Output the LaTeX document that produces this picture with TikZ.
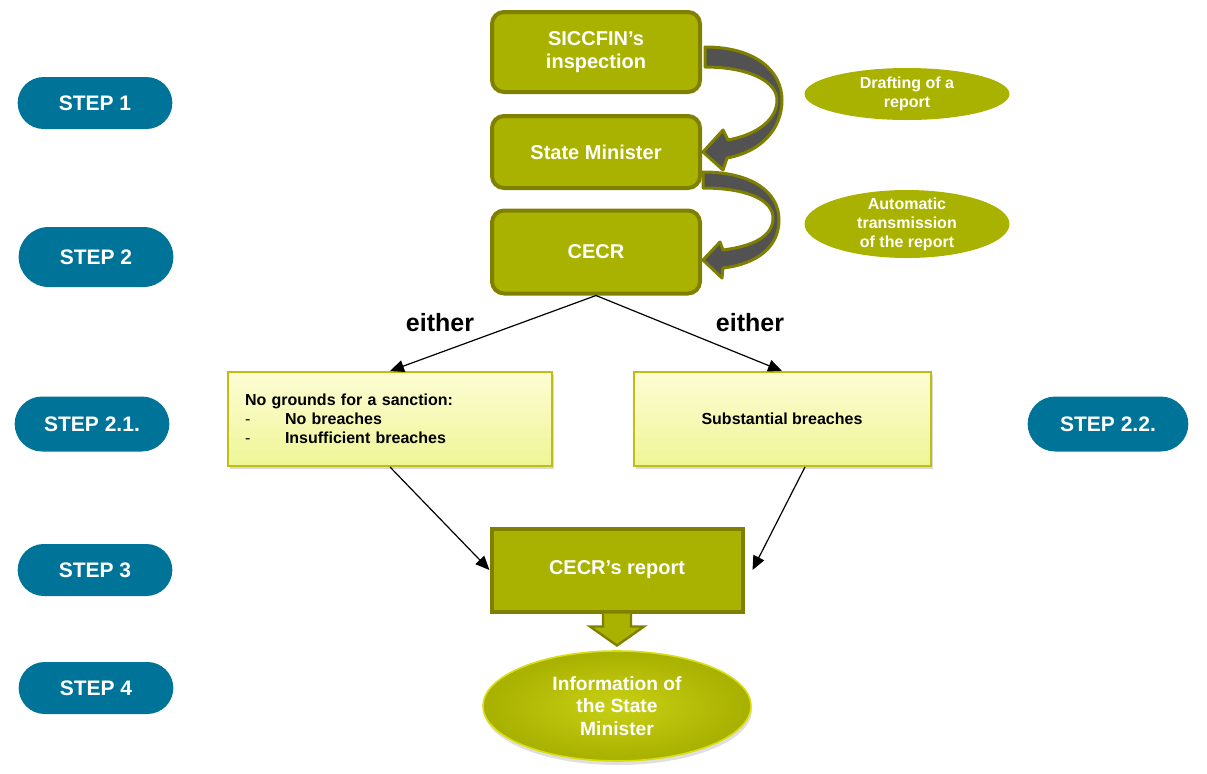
\documentclass[tikz,border=0pt]{standalone}
\usepackage{fontspec}
\setmainfont{Liberation Sans}
\usetikzlibrary{shapes.misc,shapes.geometric,arrows.meta,shadows}

\definecolor{stepteal}{RGB}{0,116,152}
\definecolor{olivefill}{RGB}{170,178,0}
\definecolor{oliveline}{RGB}{128,128,0}
\definecolor{paleyellow}{RGB}{253,253,212}
\definecolor{paleyellowb}{RGB}{238,245,150}
\definecolor{paleline}{RGB}{190,190,20}
\definecolor{bendgrey}{RGB}{82,82,82}
\definecolor{infoin}{RGB}{200,208,20}
\definecolor{infoout}{RGB}{168,176,0}

\begin{document}
\begin{tikzpicture}[x=0.5pt,y=-0.5pt,
  steppill/.style={rounded rectangle,fill=stepteal,text=white,
    font=\fontsize{10.5}{12}\selectfont\bfseries,minimum width=84pt,minimum height=26pt},
  olivebox/.style={draw=oliveline,line width=2pt,fill=olivefill,rounded corners=6pt,
    text=white,font=\fontsize{10}{11.5}\selectfont\bfseries,minimum width=104pt,align=center},
  noteoval/.style={ellipse,fill=olivefill,minimum width=102.5pt,inner sep=0pt},
  notetext/.style={text=white,font=\fontsize{8}{9.5}\selectfont\bfseries,align=center},
  choicebox/.style={draw=paleline,line width=1pt,top color=paleyellow,bottom color=paleyellowb,
    minimum height=47pt,font=\fontsize{8}{9.5}\selectfont\bfseries,
    drop shadow={opacity=0.3,shadow xshift=1pt,shadow yshift=-1.5pt}},
  flow/.style={-{Triangle[length=7pt,width=6pt]},line width=0.6pt},
  bendarrow/.style={draw=oliveline,line width=1.5pt,fill=bendgrey,line join=round},
]
\useasboundingbox (0,0) rectangle (1207,773);

% steps on the side
\node[steppill] (s1) at (95,103) {STEP 1};
\node[steppill,minimum height=30pt] (s2) at (96,257) {STEP 2};
\node[steppill,minimum height=27.5pt] (s21) at (92,424) {STEP 2.1.};
\node[steppill,minimum height=27.5pt,minimum width=87pt] (s22) at (1108,424) {STEP 2.2.};
\node[steppill] (s3) at (95,570) {STEP 3};
\node[steppill] (s4) at (96,688) {STEP 4};

% main chain
\node[olivebox,minimum height=40pt] (sic) at (596,52) {SICCFIN’s\\inspection};
\node[olivebox,minimum height=36pt] (min) at (596,152) {State Minister};
\node[olivebox,minimum height=41.5pt] (cecr) at (596,252) {CECR};

\node[noteoval,minimum height=26pt,
  label={[notetext,font=\fontsize{8}{9.2}\selectfont\bfseries]center:Drafting of a\\report}] (draft) at (907,94) {};
\node[noteoval,minimum height=34pt,
  label={[notetext]center:Automatic\\transmission\\of the report}] (auto) at (907,224) {};

% bent arrows
\begin{scope}[shift={(sic.east)}]
\draw[bendarrow] (3,-5) .. controls (55,-5) and (80,20) .. (80,48)
  .. controls (80,78) and (58,100) .. (25,106) -- (21,118) -- (1,100) -- (21,78) -- (26,88)
  .. controls (58,82) and (75,66) .. (75,48) .. controls (75,30) and (48,15) .. (3,15) -- cycle;
\end{scope}
\begin{scope}[shift={(min.east)}]
\draw[bendarrow] (1,20) .. controls (50,20) and (77,40) .. (77,68)
  .. controls (77,95) and (55,112) .. (21,116) -- (20,126) -- (1,108) -- (18,90) -- (21,98)
  .. controls (52,94) and (71,84) .. (71,66) .. controls (71,48) and (45,36) .. (1,36) -- cycle;
\end{scope}

\node[font=\fontsize{12.5}{14}\selectfont\bfseries] (eitherl) at (440,323) {either};
\node[font=\fontsize{12.5}{14}\selectfont\bfseries] (eitherr) at (750,323) {either};

\node[choicebox,text width=145pt,inner xsep=8.5pt,align=left] (no) at (390,419)
  {No grounds for a sanction:\\\makebox[20pt][l]{\mdseries-}No breaches\\\makebox[20pt][l]{\mdseries-}Insufficient breaches};
\node[choicebox,minimum width=148.5pt] (yes) at (782,419) {Substantial breaches};

\node[draw=oliveline,line width=2pt,fill=olivefill,text=white,
  font=\fontsize{10}{12}\selectfont\bfseries,minimum width=125.5pt,minimum height=41.5pt]
  (report) at (617,570) {CECR’s report};

\node[ellipse,minimum width=134pt,minimum height=55pt,inner sep=0pt,inner color=infoin,
  outer color=infoout,draw=infoin!70!yellow,line width=0.8pt,text=white,
  font=\fontsize{9.6}{11.3}\selectfont\bfseries,align=center,
  drop shadow={opacity=0.25,shadow xshift=0.5pt,shadow yshift=-2pt}]
  (info) at (617,706) {Information of\\the State\\Minister};

% connectors
\draw[flow] (cecr.south) -- (no.north);
\draw[flow] (cecr.south) -- (yes.north);
\draw[flow] (no.south) -- (report.west);
\draw[flow] ([xshift=11.5pt]yes.south) -- ([xshift=4pt]report.east);

\begin{scope}[shift={(report.south)}]
\draw[draw=oliveline,line width=1.2pt,fill=olivefill,line join=miter]
  (-14,0) -- (-14,13) -- (-27,13) -- (0,32) -- (27,13) -- (14,13) -- (14,0);
\end{scope}
\end{tikzpicture}
\end{document}
